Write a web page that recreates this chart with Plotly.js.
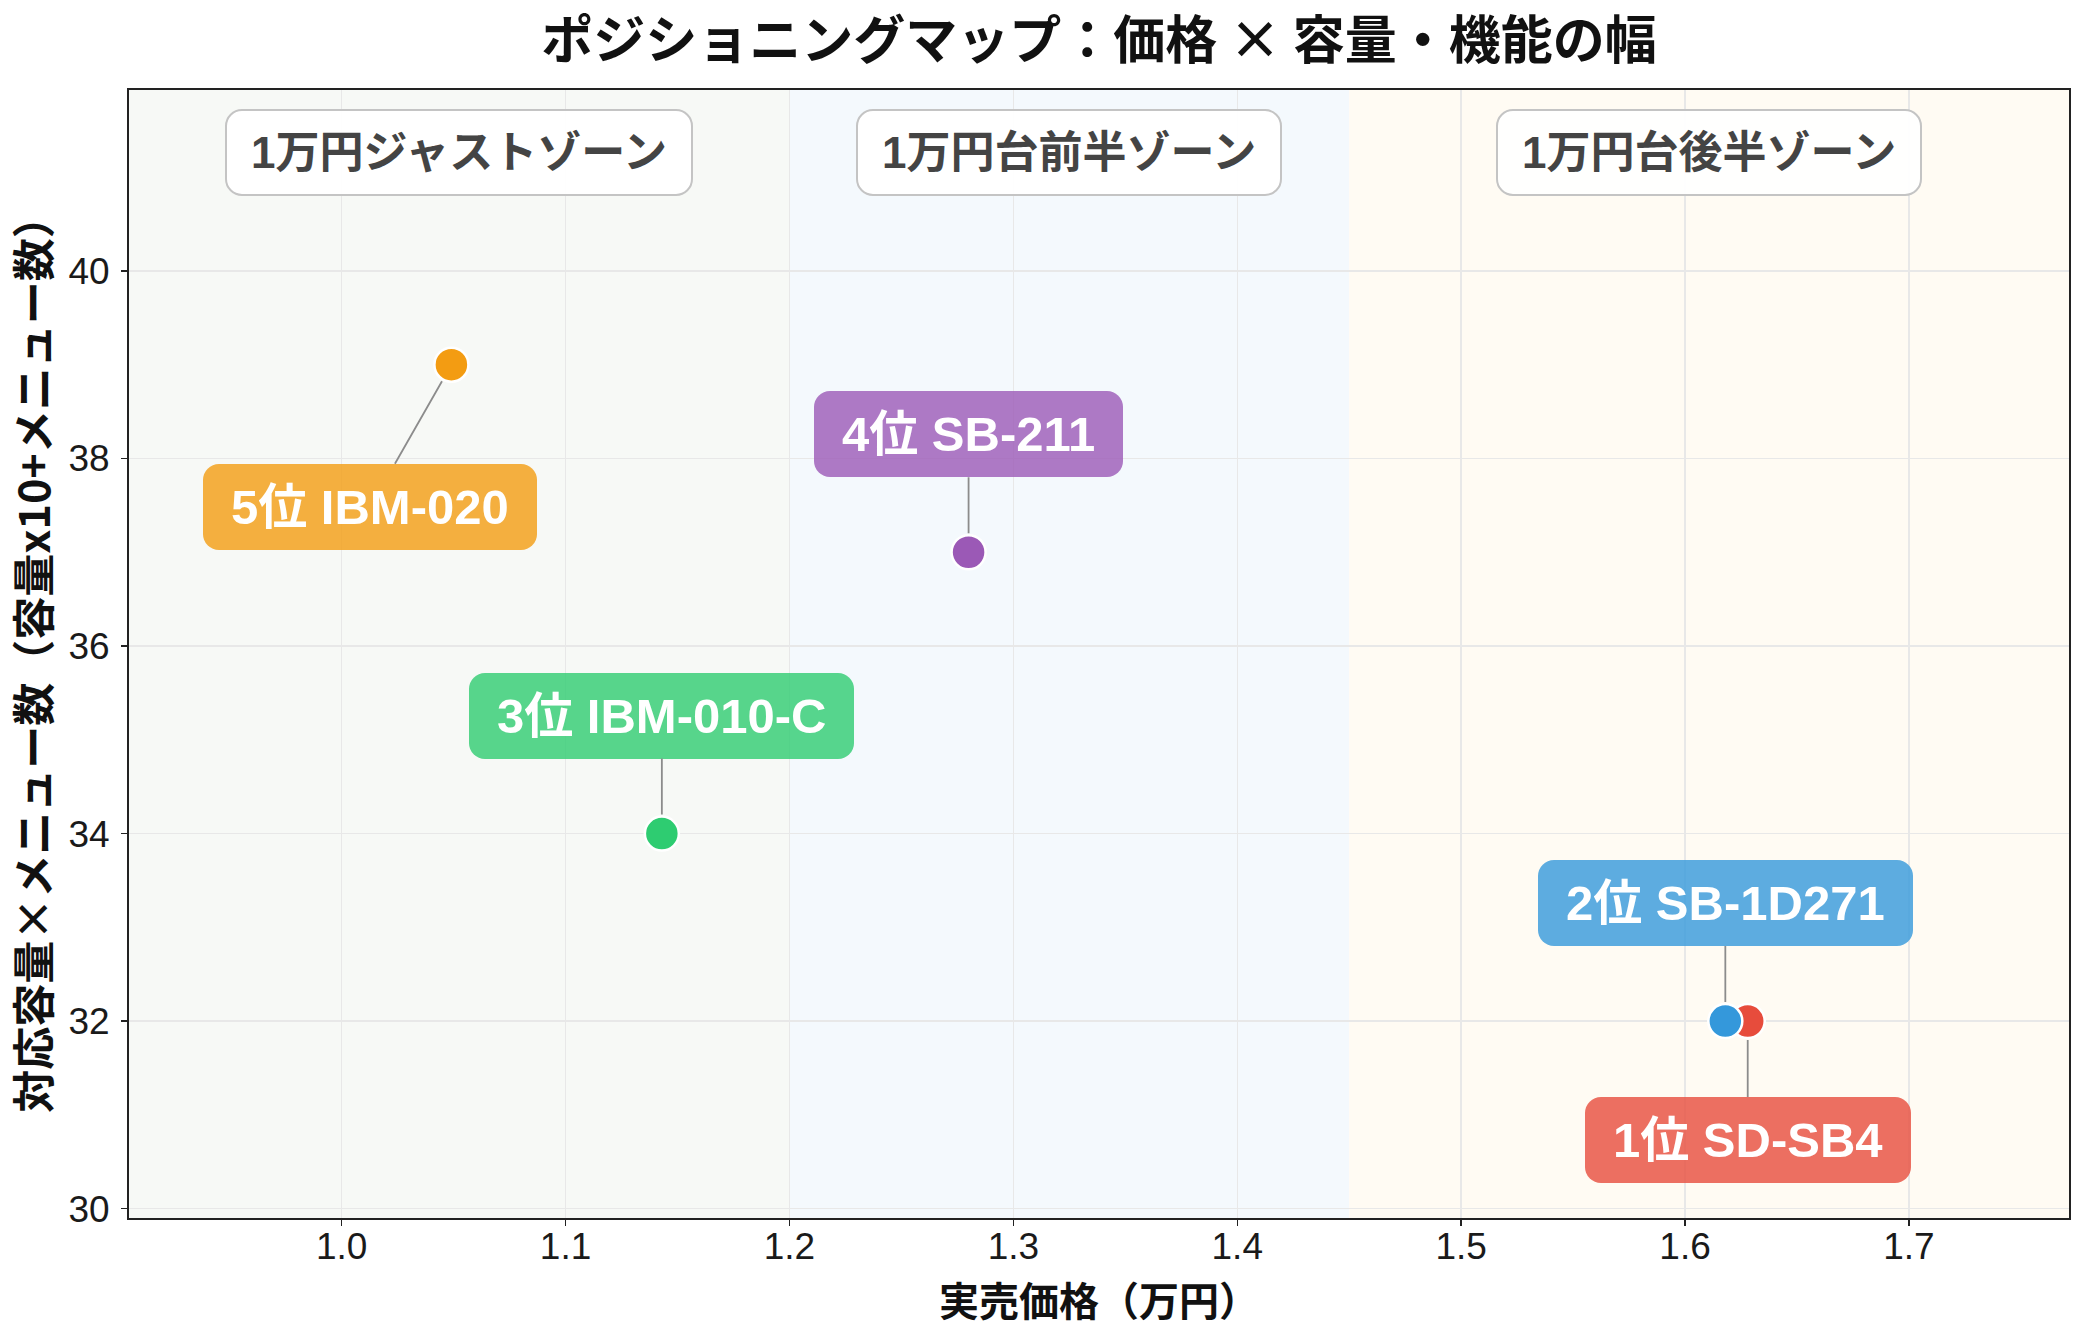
<!DOCTYPE html>
<html><head><meta charset="utf-8">
<script src="https://cdn.plot.ly/plotly-3.0.1.min.js"></script>
<style>html,body{margin:0;padding:0;background:#fff}</style>
</head><body>
<div id="chart" style="width:2084px;height:1334px"></div>
<script>
// ---- data ----
const ranks = ['1位', '2位', '3位', '4位', '5位'];
const models = ['SD-SB4', 'SB-1D271', 'IBM-010-C', 'SB-211', 'IBM-020'];
const prices = [1.628, 1.618, 1.143, 1.28, 1.049];   // 実売価格（万円）
const scores = [32, 32, 34, 37, 39];                // 対応容量×メニュー数
const colors = ['#E74C3C', '#3498DB', '#2ECC71', '#9B59B6', '#F39C12'];
const zoneNames = ['1万円ジャストゾーン', '1万円台前半ゾーン', '1万円台後半ゾーン'];
const zoneEdges = [1.2, 1.45];
const xTicks = [1.0, 1.1, 1.2, 1.3, 1.4, 1.5, 1.6, 1.7];
const yTicks = [30, 32, 34, 36, 38, 40];
const xTitle = '実売価格（万円）';
const yTitle = '対応容量×メニュー数（容量x10+メニュー数）';
const chartTitle = 'ポジショニングマップ：価格 × 容量・機能の幅';

// ---- layout / style settings ----
const xRange = [0.905, 1.7715];
const yRange = [29.9, 41.93];
const zoneFills = ['#f7f9f6', '#f4f9fd', '#fffbf3'];
const labelOffsets = [[0, 119], [0, -118], [0, -118], [0, -118], [-81, 142]];
const FONT = '"Noto Sans CJK JP", "Noto Sans", sans-serif';
const LATIN_FONT = '"Liberation Sans", "Noto Sans CJK JP", sans-serif';

function rgba(hex, a) {
  const n = parseInt(hex.slice(1), 16);
  return `rgba(${(n >> 16) & 255},${(n >> 8) & 255},${n & 255},${a})`;
}

const trace = {
  type: 'scatter', mode: 'markers',
  x: prices, y: scores,
  marker: { size: 34, color: colors, line: { color: '#ffffff', width: 2.5 } },
  hoverinfo: 'skip', showlegend: false
};

const bounds = [xRange[0], ...zoneEdges, xRange[1]];
const shapes = zoneFills.map((c, i) => ({
  type: 'rect', xref: 'x', yref: 'paper', x0: bounds[i], x1: bounds[i + 1], y0: 0, y1: 1,
  fillcolor: c, line: { width: 0 }, layer: 'below'
}));

const extraPad = [];
const annotations = [];
zoneNames.forEach((name, i) => {
  annotations.push({
    xref: 'x', yref: 'paper', x: (bounds[i] + bounds[i + 1]) / 2, y: 0.945,
    text: name, showarrow: false, xanchor: 'center', yanchor: 'middle',
    font: { family: LATIN_FONT, size: 44, color: '#444444', weight: 'bold' },
    bgcolor: 'rgba(255,255,255,0.92)', bordercolor: '#c4c4c4', borderwidth: 2, borderpad: 17
  });
  extraPad.push(7);
});
ranks.forEach((r, i) => {
  annotations.push({
    xref: 'x', yref: 'y', x: prices[i], y: scores[i],
    ax: labelOffsets[i][0], ay: labelOffsets[i][1],
    text: r + ' ' + models[i], showarrow: true, arrowhead: 0, arrowwidth: 1.8,
    arrowcolor: '#8c8c8c', standoff: 19,
    font: { family: LATIN_FONT, size: 49, color: '#ffffff', weight: 'bold' },
    bgcolor: rgba(colors[i], 0.8), bordercolor: rgba(colors[i], 0), borderwidth: 0, borderpad: 16
  });
  extraPad.push(12);
});
// x-axis title, placed as a paper-anchored text
annotations.push({
  xref: 'paper', yref: 'paper', x: 0.5, y: -0.0715, xanchor: 'center', yanchor: 'middle',
  text: xTitle, showarrow: false,
  font: { family: FONT, size: 40, color: '#111111', weight: 'bold' }
});
extraPad.push(0);

const axisCommon = {
  showline: true, mirror: true, linecolor: '#222222', linewidth: 2,
  ticks: 'outside', ticklen: 6, tickwidth: 1.5, tickcolor: '#222222',
  showgrid: true, gridcolor: '#e8e8e8', gridwidth: 1.3, zeroline: false,
  tickfont: { family: LATIN_FONT, size: 37, color: '#1a1a1a' }, automargin: false
};

const layout = {
  width: 2084, height: 1334,
  margin: { l: 129, r: 15, t: 90, b: 116 },
  paper_bgcolor: '#ffffff', plot_bgcolor: '#ffffff',
  font: { family: FONT },
  title: {
    text: chartTitle,
    x: 0.5, xref: 'paper', xanchor: 'center', y: 0.9695, yref: 'container', yanchor: 'middle',
    font: { family: FONT, size: 52, color: '#111111', weight: 'bold' }
  },
  xaxis: Object.assign({}, axisCommon, {
    range: xRange, tickvals: xTicks, ticktext: xTicks.map(v => v.toFixed(1)), ticklabelstandoff: -11
  }),
  yaxis: Object.assign({}, axisCommon, {
    range: yRange, tickvals: yTicks, ticktext: yTicks.map(String), ticklabelstandoff: 4,
    title: { text: yTitle, standoff: 12, font: { family: FONT, size: 43, color: '#111111', weight: 'bold' } }
  }),
  shapes: shapes,
  annotations: annotations
};

function roundBoxes(gd) {
  gd.querySelectorAll('g.annotation').forEach(g => {
    const idx = +g.getAttribute('data-index');
    const rect = g.querySelector('rect.bg');
    if (!rect) return;
    const p = extraPad[idx] || 0;
    const x = parseFloat(rect.getAttribute('x')) || 0;
    const w = parseFloat(rect.getAttribute('width')) || 0;
    rect.setAttribute('x', x - p);
    rect.setAttribute('width', w + 2 * p);
    rect.setAttribute('rx', 16);
    rect.setAttribute('ry', 16);
  });
}

Plotly.newPlot('chart', [trace], layout, { staticPlot: true, displayModeBar: false })
  .then(gd => roundBoxes(gd));
</script>
</body></html>
